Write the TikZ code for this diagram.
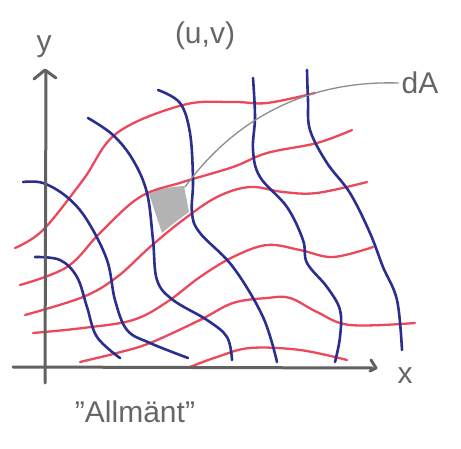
\documentclass[tikz,border=0pt]{standalone}
\usepackage{fontspec}
\setmainfont{Liberation Sans}
\definecolor{pen red}{RGB}{236,72,92}
\definecolor{pen blue}{RGB}{42,46,140}

\begin{document}
\begin{tikzpicture}[x=1pt,y=-1pt,line cap=round,line join=round,
  axis/.style={line width=3pt,draw=black!62},
  uline/.style={line width=2.3pt,draw=pen red},
  vline/.style={line width=2.6pt,draw=pen blue},
  hand/.style={text=black!60,font=\fontsize{30}{34}\selectfont}]
  \useasboundingbox (0,0) rectangle (461,449);

  % red curves
  \draw[uline] plot[smooth,tension=0.6] coordinates {(15,248) (43,230) (83,180) (117,133) (183,105) (233,102) (267,103) (315,93)};
  \draw[uline] plot[smooth,tension=0.6] coordinates {(20,285) (67,267) (100,233) (140,197) (183,182) (233,167) (267,153) (317,143) (352,130)};
  \draw[uline] plot[smooth,tension=0.6] coordinates {(25,315) (83,297) (117,277) (150,247) (183,220) (217,197) (250,187) (283,192) (317,193) (367,182)};
  \draw[uline] plot[smooth,tension=0.6] coordinates {(33,333) (83,328) (133,320) (167,302) (200,277) (233,257) (267,245) (300,250) (333,257) (373,247)};
  \draw[uline] plot[smooth,tension=0.6] coordinates {(80,362) (117,353) (150,343) (200,320) (233,303) (267,298) (290,298) (317,312) (350,325) (415,323)};
  \draw[uline] plot[smooth,tension=0.6] coordinates {(190,367) (217,357) (250,348) (300,350) (347,360)};

  % blue curves
  \draw[vline] plot[smooth,tension=0.6] coordinates {(35,257) (60,260) (77,277) (87,307) (97,337) (120,358)};
  \draw[vline] plot[smooth,tension=0.6] coordinates {(23,182) (43,183) (67,197) (87,220) (107,260) (115,300) (127,330) (150,343) (188,358)};
  \draw[vline] plot[smooth,tension=0.6] coordinates {(88,118) (113,135) (133,160) (147,193) (153,240) (157,280) (173,300) (207,320) (227,337) (232,360)};
  \draw[vline] plot[smooth,tension=0.6] coordinates {(158,90) (180,103) (190,133) (193,180) (192,213) (200,233) (233,267) (263,317) (277,362)};
  \draw[vline] plot[smooth,tension=0.6] coordinates {(253,78) (255,117) (253,150) (260,177) (287,207) (303,240) (307,263) (327,287) (340,310) (340,337) (335,362)};
  \draw[vline] plot[smooth,tension=0.6] coordinates {(307,70) (308,100) (310,130) (327,163) (350,193) (370,233) (383,267) (397,300) (402,350)};

  % shaded area element
  \fill[black!50,opacity=0.6] (149,194) .. controls (160,188) and (172,187) .. (184,186)
    -- (189,212) .. controls (178,220) and (170,226) .. (162,233) -- cycle;
  \coordinate (elem) at (185,187);

  % axes
  \draw[axis] (13,367) -- (372,368);
  \draw[axis] (371,360) -- (376,368) -- (370,371);
  \draw[axis] (45,383) -- (46,72);
  \draw[axis] (34,79) -- (45,70) -- (56,78);

  \node[hand] (ylab) at (44,47) {y};
  \node[hand] (xlab) at (405,376) {x};
  \node[hand] (uv) at (205,36) {(u,v)};
  \node[hand] (area) at (420,83) {dA};
  \node[hand] (gen) at (135,412) {\symbol{34}Allmänt\symbol{34}};

  \draw[line width=1.3pt,draw=black!45] (area.west) .. controls (300,80) and (230,125) .. (elem);
\end{tikzpicture}
\end{document}
